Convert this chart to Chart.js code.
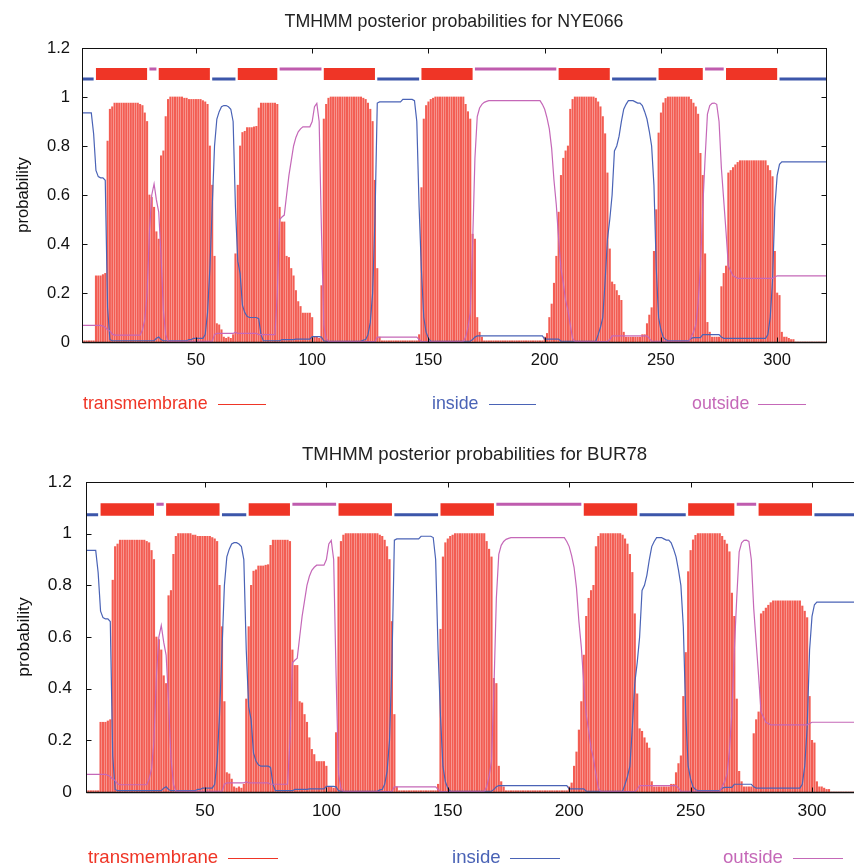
<!DOCTYPE html>
<html>
<head>
<meta charset="utf-8">
<title>TMHMM posterior probabilities</title>
<script src="https://cdn.jsdelivr.net/npm/chart.js@4.4.1/dist/chart.umd.min.js"></script>
<style>
  body { margin: 0; width: 854px; height: 865px; overflow: hidden; background: #fff; position: relative;
         font-family: "Liberation Sans", Arial, sans-serif; }
  .panel { position: absolute; left: 0; }
  .leg { position: absolute; white-space: nowrap; }
  .legline { position: absolute; height: 1px; }
</style>
</head>
<body>
<div class="panel" style="top:0"><canvas id="chart1" width="854" height="430"></canvas></div>
<div class="panel" style="top:430px"><canvas id="chart2" width="900" height="435"></canvas></div>
<div id="legends"></div>
<script>
// posterior probability per residue (1..321)
// transmembrane (red impulses)
var tm = [
  0.005, 0.005, 0.005, 0.005, 0.005, 0.005, 0.27, 0.27, 0.27, 0.275,      // 1-10
  0.28, 0.82, 0.95, 0.96, 0.975, 0.975, 0.975, 0.975, 0.975, 0.975,      // 11-20
  0.975, 0.975, 0.975, 0.975, 0.975, 0.97, 0.965, 0.935, 0.9, 0.6,       // 21-30
  0.59, 0.55, 0.45, 0.42, 0.76, 0.78, 0.92, 0.99, 1.0, 1.0,              // 31-40
  1.0, 1.0, 1.0, 1.0, 0.995, 0.995, 0.99, 0.99, 0.99, 0.99,              // 41-50
  0.99, 0.99, 0.985, 0.98, 0.97, 0.8, 0.64, 0.35, 0.075, 0.07,           // 51-60
  0.05, 0.02, 0.015, 0.02, 0.015, 0.03, 0.36, 0.64, 0.8, 0.855,          // 61-70
  0.86, 0.875, 0.875, 0.875, 0.878, 0.88, 0.955, 0.975, 0.975, 0.975,    // 71-80
  0.975, 0.975, 0.975, 0.975, 0.97, 0.55, 0.49, 0.49, 0.35, 0.345,       // 81-90
  0.3, 0.27, 0.21, 0.165, 0.145, 0.118, 0.118, 0.118, 0.118, 0.1,        // 91-100
  0.02, 0.02, 0.015, 0.23, 0.91, 0.97, 0.995, 1.0, 1.0, 1.0,             // 101-110
  1.0, 1.0, 1.0, 1.0, 1.0, 1.0, 1.0, 1.0, 1.0, 1.0,                      // 111-120
  1.0, 0.995, 0.99, 0.975, 0.95, 0.9, 0.66, 0.3, 0.02, 0.005,            // 121-130
  0.005, 0.005, 0.005, 0.005, 0.005, 0.005, 0.005, 0.005, 0.005, 0.005,  // 131-140
  0.005, 0.005, 0.005, 0.005, 0.005, 0.03, 0.63, 0.91, 0.965, 0.98,      // 141-150
  0.99, 0.995, 1.0, 1.0, 1.0, 1.0, 1.0, 1.0, 1.0, 1.0,                   // 151-160
  1.0, 1.0, 1.0, 1.0, 1.0, 0.97, 0.94, 0.91, 0.44, 0.42,                 // 161-170
  0.1, 0.04, 0.02, 0.005, 0.005, 0.005, 0.005, 0.005, 0.005, 0.005,      // 171-180
  0.005, 0.005, 0.005, 0.005, 0.005, 0.005, 0.005, 0.005, 0.005, 0.005,  // 181-190
  0.005, 0.005, 0.005, 0.005, 0.005, 0.005, 0.005, 0.005, 0.005, 0.02,   // 191-200
  0.035, 0.1, 0.155, 0.24, 0.35, 0.53, 0.68, 0.75, 0.78, 0.8,            // 201-210
  0.95, 0.99, 1.0, 1.0, 1.0, 1.0, 1.0, 1.0, 1.0, 1.0,                    // 211-220
  1.0, 0.995, 0.98, 0.96, 0.92, 0.85, 0.69, 0.38, 0.245, 0.235,          // 221-230
  0.21, 0.19, 0.17, 0.04, 0.02, 0.02, 0.02, 0.02, 0.02, 0.02,            // 231-240
  0.02, 0.03, 0.03, 0.075, 0.11, 0.14, 0.37, 0.54, 0.853, 0.935,         // 241-250
  0.976, 0.994, 1.0, 1.0, 1.0, 1.0, 1.0, 1.0, 1.0, 1.0,                  // 251-260
  1.0, 1.0, 0.99, 0.975, 0.96, 0.93, 0.77, 0.68, 0.36, 0.08,             // 261-270
  0.04, 0.02, 0.02, 0.02, 0.02, 0.226, 0.28, 0.31, 0.69, 0.7,            // 271-280
  0.712, 0.723, 0.733, 0.74, 0.74, 0.74, 0.74, 0.74, 0.74, 0.74,         // 281-290
  0.74, 0.74, 0.74, 0.74, 0.74, 0.72, 0.7, 0.675, 0.37, 0.2,             // 291-300
  0.19, 0.04, 0.02, 0.02, 0.015, 0.01, 0.01, 0, 0, 0,                    // 301-310
  0, 0, 0, 0, 0, 0, 0, 0, 0, 0, 0                                        // 311-321
];

// inside (blue line)
var inside = [
  0.935, 0.935, 0.935, 0.935, 0.935, 0.85, 0.7, 0.675, 0.67, 0.67,       // 1-10
  0.66, 0.14, 0.01, 0.005, 0.005, 0.005, 0.005, 0.005, 0.005, 0.005,     // 11-20
  0.005, 0.005, 0.005, 0.005, 0.005, 0.005, 0.005, 0.005, 0.005, 0.005,  // 21-30
  0.005, 0.005, 0.015, 0.02, 0.01, 0.005, 0.005, 0.005, 0.005, 0.005,    // 31-40
  0.005, 0.005, 0.005, 0.005, 0.005, 0.005, 0.01, 0.01, 0.015, 0.015,    // 41-50
  0.015, 0.015, 0.015, 0.03, 0.12, 0.3, 0.55, 0.8, 0.91, 0.94,           // 51-60
  0.96, 0.965, 0.965, 0.96, 0.95, 0.9, 0.55, 0.33, 0.28, 0.15,           // 61-70
  0.12, 0.105, 0.1, 0.1, 0.1, 0.1, 0.095, 0.03, 0.005, 0.005,            // 71-80
  0.005, 0.005, 0.005, 0.005, 0.005, 0.005, 0.01, 0.01, 0.01, 0.01,      // 81-90
  0.01, 0.01, 0.012, 0.012, 0.012, 0.012, 0.012, 0.012, 0.012, 0.022,    // 91-100
  0.022, 0.022, 0.022, 0.02, 0.005, 0.003, 0.003, 0.003, 0.003, 0.003,   // 101-110
  0.003, 0.003, 0.003, 0.003, 0.003, 0.003, 0.003, 0.003, 0.003, 0.003,  // 111-120
  0.003, 0.008, 0.01, 0.03, 0.08, 0.2, 0.5, 0.975, 0.98, 0.98,           // 121-130
  0.98, 0.98, 0.98, 0.98, 0.98, 0.98, 0.98, 0.98, 0.99, 0.99,            // 131-140
  0.99, 0.99, 0.99, 0.985, 0.9, 0.55, 0.29, 0.1, 0.04, 0.015,            // 141-150
  0.003, 0.003, 0.003, 0.003, 0.003, 0.003, 0.003, 0.003, 0.003, 0.003,  // 151-160
  0.003, 0.003, 0.003, 0.003, 0.003, 0.003, 0.003, 0.003, 0.01, 0.02,    // 161-170
  0.025, 0.025, 0.025, 0.025, 0.025, 0.025, 0.025, 0.025, 0.025, 0.025,  // 171-180
  0.025, 0.025, 0.025, 0.025, 0.025, 0.025, 0.025, 0.025, 0.025, 0.025,  // 181-190
  0.025, 0.025, 0.025, 0.025, 0.025, 0.025, 0.025, 0.025, 0.025, 0.012,  // 191-200
  0.012, 0.012, 0.012, 0.012, 0.012, 0.012, 0.003, 0.003, 0.003, 0.003,  // 201-210
  0.003, 0.003, 0.003, 0.003, 0.003, 0.003, 0.003, 0.003, 0.003, 0.003,  // 211-220
  0.003, 0.003, 0.03, 0.06, 0.1, 0.25, 0.42, 0.5, 0.6, 0.78,             // 221-230
  0.8, 0.84, 0.9, 0.95, 0.97, 0.985, 0.985, 0.985, 0.98, 0.975,          // 231-240
  0.975, 0.965, 0.94, 0.91, 0.86, 0.8, 0.64, 0.3, 0.1, 0.05,             // 241-250
  0.02, 0.01, 0.005, 0.005, 0.005, 0.005, 0.005, 0.005, 0.005, 0.005,    // 251-260
  0.005, 0.005, 0.015, 0.018, 0.018, 0.018, 0.018, 0.03, 0.03, 0.03,     // 261-270
  0.03, 0.03, 0.03, 0.03, 0.03, 0.02, 0.015, 0.015, 0.015, 0.015,        // 271-280
  0.015, 0.015, 0.015, 0.015, 0.015, 0.015, 0.015, 0.015, 0.015, 0.015,  // 281-290
  0.015, 0.015, 0.015, 0.015, 0.015, 0.03, 0.1, 0.25, 0.55, 0.68,        // 291-300
  0.725, 0.735, 0.735, 0.735, 0.735, 0.735, 0.735, 0.735, 0.735, 0.735,  // 301-310
  0.735, 0.735, 0.735, 0.735, 0.735, 0.735, 0.735, 0.735, 0.735, 0.735, 0.735 // 311-321
];

// outside (magenta line)
var outside = [
  0.068, 0.068, 0.068, 0.068, 0.068, 0.068, 0.068, 0.068, 0.068, 0.065,  // 1-10
  0.06, 0.05, 0.045, 0.032, 0.028, 0.028, 0.028, 0.028, 0.028, 0.028,    // 11-20
  0.028, 0.028, 0.028, 0.028, 0.028, 0.028, 0.05, 0.09, 0.2, 0.45,       // 21-30
  0.6, 0.645, 0.58, 0.53, 0.35, 0.13, 0.03, 0.003, 0.003, 0.003,         // 31-40
  0.003, 0.003, 0.003, 0.003, 0.003, 0.003, 0.003, 0.003, 0.003, 0.003,  // 41-50
  0.003, 0.003, 0.003, 0.003, 0.003, 0.003, 0.003, 0.03, 0.035, 0.035,   // 51-60
  0.035, 0.035, 0.035, 0.035, 0.035, 0.035, 0.04, 0.035, 0.035, 0.035,   // 61-70
  0.035, 0.035, 0.035, 0.035, 0.035, 0.035, 0.03, 0.03, 0.03, 0.03,      // 71-80
  0.03, 0.03, 0.03, 0.03, 0.2, 0.5, 0.51, 0.518, 0.6, 0.68,              // 81-90
  0.74, 0.8, 0.835, 0.858, 0.87, 0.878, 0.878, 0.878, 0.878, 0.9,        // 91-100
  0.96, 0.974, 0.9, 0.45, 0.07, 0.015, 0.002, 0.002, 0.002, 0.002,       // 101-110
  0.002, 0.002, 0.002, 0.002, 0.002, 0.002, 0.002, 0.002, 0.002, 0.002,  // 111-120
  0.002, 0.002, 0.002, 0.002, 0.002, 0.002, 0.002, 0.02, 0.02, 0.02,    // 121-130
  0.02, 0.02, 0.02, 0.02, 0.02, 0.02, 0.02, 0.02, 0.02, 0.02,            // 131-140
  0.02, 0.02, 0.02, 0.02, 0.02, 0.01, 0.002, 0.002, 0.002, 0.002,        // 141-150
  0.002, 0.002, 0.002, 0.002, 0.002, 0.002, 0.002, 0.002, 0.002, 0.002,  // 151-160
  0.002, 0.002, 0.002, 0.002, 0.002, 0.02, 0.06, 0.12, 0.4, 0.75,        // 161-170
  0.92, 0.955, 0.97, 0.978, 0.982, 0.985, 0.985, 0.985, 0.985, 0.985,    // 171-180
  0.985, 0.985, 0.985, 0.985, 0.985, 0.985, 0.985, 0.985, 0.985, 0.985,  // 181-190
  0.985, 0.985, 0.985, 0.985, 0.985, 0.985, 0.985, 0.985, 0.97, 0.95,    // 191-200
  0.915, 0.87, 0.79, 0.66, 0.56, 0.42, 0.3, 0.24, 0.17, 0.13,            // 201-210
  0.07, 0.015, 0.002, 0.002, 0.002, 0.002, 0.002, 0.002, 0.002, 0.002,   // 211-220
  0.002, 0.002, 0.002, 0.002, 0.002, 0.002, 0.002, 0.01, 0.025, 0.025,   // 221-230
  0.025, 0.025, 0.025, 0.025, 0.025, 0.025, 0.025, 0.025, 0.025, 0.025,  // 231-240
  0.025, 0.025, 0.025, 0.025, 0.015, 0.003, 0.003, 0.003, 0.003, 0.003,  // 241-250
  0.003, 0.003, 0.003, 0.003, 0.003, 0.003, 0.003, 0.003, 0.003, 0.003,  // 251-260
  0.003, 0.003, 0.02, 0.04, 0.07, 0.16, 0.31, 0.55, 0.75, 0.93,          // 261-270
  0.965, 0.974, 0.975, 0.97, 0.9, 0.71, 0.58, 0.45, 0.31, 0.29,          // 271-280
  0.27, 0.265, 0.26, 0.26, 0.26, 0.26, 0.26, 0.26, 0.26, 0.26,           // 281-290
  0.26, 0.26, 0.26, 0.26, 0.26, 0.26, 0.26, 0.26, 0.265, 0.27,           // 291-300
  0.27, 0.27, 0.27, 0.27, 0.27, 0.27, 0.27, 0.27, 0.27, 0.27,            // 301-310
  0.27, 0.27, 0.27, 0.27, 0.27, 0.27, 0.27, 0.27, 0.27, 0.27, 0.27       // 311-321
];

// predicted topology (residue ranges)
var tmSegs = [[7, 29], [34, 56], [68, 85], [105, 127], [147, 169], [206, 228], [249, 268], [278, 300]];
var insideSegs = [[1, 6], [57, 67], [128, 146], [229, 248], [301, 321]];
var outsideSegs = [[30, 33], [86, 104], [170, 205], [269, 277]];

var residues = tm.map(function (v, i) { return i + 1; });
var xTicks = [50, 100, 150, 200, 250, 300];
var yTicks = [0, 0.2, 0.4, 0.6, 0.8, 1, 1.2];

var FONT = '"Liberation Sans", Arial, sans-serif';
var RED = "#ef3526";
var BLUE = "#4a63b6";
var MAGENTA = "#c568b8";

function points(values) {
  return values.map(function (v, i) { return { x: residues[i], y: v }; });
}

function segPoints(segs, level) {
  var pts = [];
  segs.forEach(function (s) {
    pts.push({ x: s[0], y: level }, { x: s[1], y: level }, { x: s[1], y: null });
  });
  return pts;
}

// box around the plot plus inward tick marks on all four sides
var framePlugin = {
  id: "frame",
  afterDatasetsDraw: function (chart) {
    var ctx = chart.ctx, a = chart.chartArea;
    var xs = chart.scales.x, ys = chart.scales.y;
    var L = Math.round(a.left) + 0.5, R = Math.round(a.right) + 0.5;
    var T = Math.round(a.top) + 0.5, B = Math.round(a.bottom) + 0.5;
    ctx.save();
    ctx.strokeStyle = "#111";
    ctx.lineWidth = 1;
    ctx.strokeRect(L, T, R - L, B - T);
    ctx.beginPath();
    xs.ticks.forEach(function (t) {
      var px = Math.round(xs.getPixelForValue(t.value)) + 0.5;
      ctx.moveTo(px, T); ctx.lineTo(px, T + 5);
      ctx.moveTo(px, B); ctx.lineTo(px, B - 5);
    });
    ys.ticks.forEach(function (t) {
      var py = Math.round(ys.getPixelForValue(t.value)) + 0.5;
      ctx.moveTo(L, py); ctx.lineTo(L + 5, py);
      ctx.moveTo(R, py); ctx.lineTo(R - 5, py);
    });
    ctx.stroke();
    // slightly heavier zero line
    ctx.lineWidth = 1.6;
    ctx.beginPath();
    ctx.moveTo(L, B); ctx.lineTo(R, B);
    ctx.stroke();
    ctx.restore();
  }
};

function makeChart(id, c) {
  return new Chart(document.getElementById(id), {
    type: "bar",
    data: {
      datasets: [
        { type: "line", data: segPoints(tmSegs, 1.094), borderColor: RED, borderWidth: c.boxH,
          borderCapStyle: "butt", pointRadius: 0, order: 1 },
        { type: "line", data: segPoints(insideSegs, 1.073), borderColor: "#3c56aa", borderWidth: 3,
          borderCapStyle: "butt", pointRadius: 0, order: 1 },
        { type: "line", data: segPoints(outsideSegs, 1.114), borderColor: "#bf5cae", borderWidth: 3,
          borderCapStyle: "butt", pointRadius: 0, order: 1 },
        { type: "line", label: "outside", data: points(outside), borderColor: MAGENTA, borderWidth: 1.2,
          pointRadius: 0, tension: 0, order: 2 },
        { type: "line", label: "inside", data: points(inside), borderColor: BLUE, borderWidth: 1.2,
          pointRadius: 0, tension: 0, order: 3 },
        { label: "transmembrane", data: points(tm), backgroundColor: "rgba(240, 48, 34, 0.78)", borderWidth: 0,
          barThickness: c.barW, order: 4 }
      ]
    },
    options: {
      responsive: false,
      animation: false,
      layout: { padding: { left: 0, right: c.padRight, top: 0, bottom: 0 } },
      plugins: {
        legend: { display: false },
        tooltip: { enabled: false },
        title: {
          display: true, fullSize: false, text: c.title, color: "#222",
          font: { family: FONT, size: c.titleSize, weight: "normal" },
          padding: { top: c.titleTop, bottom: c.titleBottom }
        }
      },
      scales: {
        x: {
          type: "linear", min: 1, max: 321, offset: false,
          grid: { display: false, offset: false, drawTicks: false },
          border: { display: false },
          ticks: { color: "#111", font: { family: FONT, size: c.tickSize }, padding: c.xPad, maxRotation: 0 },
          afterBuildTicks: function (s) { s.ticks = xTicks.map(function (v) { return { value: v }; }); },
          afterFit: function (s) { s.height = c.xAxisH; }
        },
        y: {
          min: 0, max: 1.2,
          grid: { display: false, drawTicks: false },
          border: { display: false },
          ticks: { color: "#111", font: { family: FONT, size: c.tickSize }, padding: c.yPad,
                   callback: function (v) { return String(Math.round(v * 10) / 10); } },
          title: { display: true, text: "probability", color: "#111",
                   font: { family: FONT, size: c.tickSize }, padding: { top: c.yTitlePad, bottom: 0 } },
          afterBuildTicks: function (s) { s.ticks = yTicks.map(function (v) { return { value: v }; }); },
          afterFit: function (s) { s.width = c.yAxisW; }
        }
      }
    },
    plugins: [framePlugin]
  });
}

makeChart("chart1", {
  title: "TMHMM posterior probabilities for NYE066", titleSize: 17.8, titleTop: 11.2, titleBottom: 15.4,
  tickSize: 16.6, padRight: 28, xAxisH: 88, yAxisW: 82, xPad: 8, yPad: 12, yTitlePad: 13,
  barW: 1.4, boxH: 12
});
makeChart("chart2", {
  title: "TMHMM posterior probabilities for BUR78", titleSize: 18.6, titleTop: 13.8, titleBottom: 15.9,
  tickSize: 17.4, padRight: 37, xAxisH: 73, yAxisW: 86, xPad: 9, yPad: 14, yTitlePad: 14,
  barW: 1.5, boxH: 12.5
});

// legends under each panel
var legendItems = [
  { text: "transmembrane", color: RED, x: 83, lx: 218, lw: 48, y: 404, size: 17.8 },
  { text: "inside", color: BLUE, x: 432, lx: 489, lw: 47, y: 404, size: 17.8 },
  { text: "outside", color: MAGENTA, x: 692, lx: 758, lw: 48, y: 404, size: 17.8 },
  { text: "transmembrane", color: RED, x: 88, lx: 228, lw: 50, y: 858, size: 18.6 },
  { text: "inside", color: BLUE, x: 452, lx: 510, lw: 50, y: 858, size: 18.6 },
  { text: "outside", color: MAGENTA, x: 723, lx: 793, lw: 50, y: 858, size: 18.6 }
];
var host = document.getElementById("legends");
legendItems.forEach(function (it) {
  var t = document.createElement("div");
  t.className = "leg";
  t.textContent = it.text;
  t.style.color = it.color;
  t.style.fontSize = it.size + "px";
  t.style.lineHeight = Math.round(it.size * 1.2) + "px";
  t.style.left = it.x + "px";
  t.style.top = (it.y - Math.round(it.size * 1.2) / 2 - 1) + "px";
  host.appendChild(t);
  var l = document.createElement("div");
  l.className = "legline";
  l.style.left = it.lx + "px";
  l.style.width = it.lw + "px";
  l.style.top = it.y + "px";
  l.style.background = it.color;
  host.appendChild(l);
});
</script>
</body>
</html>
